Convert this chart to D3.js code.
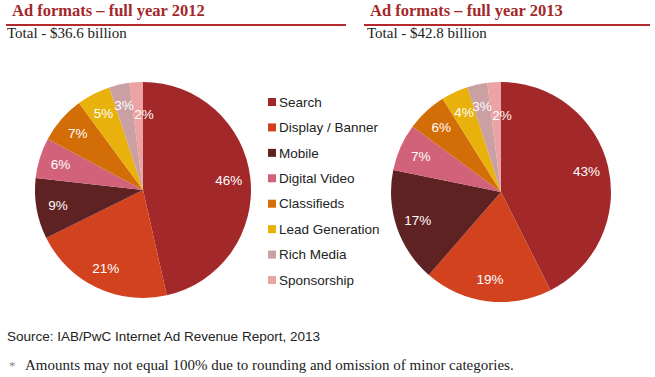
<!DOCTYPE html>
<html>
  <head>
    <meta charset="utf-8">
    <title></title>
    <style>
      body { margin: 0; background: #fff; }
      text { font-family: "Liberation Sans", Arial, sans-serif; }
      .serif { font-family: "Liberation Serif", "DejaVu Serif", serif; }
    </style>
  </head>
  <body>
    <div id="chart"></div>
    <script src="https://d3js.org/d3.v7.min.js" charset="utf-8"></script>
    <script>

      const width = 655;
      const height = 377;

      const categories = ['Search', 'Display / Banner', 'Mobile', 'Digital Video',
                          'Classifieds', 'Lead Generation', 'Rich Media', 'Sponsorship'];
      const colors = ['#a3282a', '#d2421f', '#5f2222', '#d2627a',
                      '#d26d07', '#e8b10b', '#caa0a2', '#eba3a3'];

      const values2012 = [46, 21, 9, 6, 7, 5, 3, 2];
      const values2013 = [43, 19, 17, 7, 6, 4, 3, 2];

      const titles = ['Ad formats \u2013 full year 2012', 'Ad formats \u2013 full year 2013'];
      const totals = ['Total - $36.6 billion', 'Total - $42.8 billion'];

      const svg = d3.select('#chart')
                    .append('svg')
                    .attr('width', width)
                    .attr('height', height)

      // headers
      const headers = [
        {x: 12, lineX: [6, 346], totX: 7},
        {x: 370, lineX: [364, 650], totX: 367}
      ]
      headers.forEach((h, i) => {
        svg.append('text').attr('class', 'serif')
          .attr('x', h.x).attr('y', 16)
          .attr('font-size', 16.5).attr('font-weight', 'bold')
          .attr('fill', '#a3282a')
          .text(titles[i])
        svg.append('line')
          .attr('x1', h.lineX[0]).attr('x2', h.lineX[1])
          .attr('y1', 25).attr('y2', 25)
          .attr('stroke', '#b5282c').attr('stroke-width', 2)
        svg.append('text').attr('class', 'serif')
          .attr('x', h.totX).attr('y', 38)
          .attr('font-size', 15).attr('fill', '#222')
          .text(totals[i])
      })

      const pie = d3.pie().sort(null).value(d => d)

      const drawPie = function(values, cx, cy, r) {
        const arc = d3.arc().innerRadius(0).outerRadius(r)
        const labelArc = d3.arc().innerRadius(r * 0.8).outerRadius(r * 0.8)
        const g = svg.append('g').attr('transform', `translate(${cx},${cy})`)
        const arcs = pie(values)

        g.selectAll('path').data(arcs)
          .enter().append('path')
          .attr('d', arc)
          .attr('fill', (d, i) => colors[i])

        g.selectAll('text').data(arcs)
          .enter().append('text')
          .attr('transform', (d, i) => {
            let [x, y] = labelArc.centroid(d)
            // last tiny slice: excel nudges it inward and right
            if (i === arcs.length - 1) { x = 1; y = -r * 0.7 }
            return `translate(${x},${y})`
          })
          .attr('text-anchor', 'middle')
          .attr('dy', '0.35em')
          .attr('font-size', 13.5)
          .attr('fill', '#fff')
          .text(d => d.data + '%')
      }

      drawPie(values2012, 143, 190, 108)
      drawPie(values2013, 501, 192, 110)

      // legend
      const legendY = d3.scalePoint().domain(categories).range([102, 280])
      const legend = svg.append('g')
      categories.forEach((c, i) => {
        legend.append('rect')
          .attr('x', 268).attr('y', legendY(c) - 4)
          .attr('width', 8).attr('height', 8)
          .attr('fill', colors[i])
        legend.append('text')
          .attr('x', 279).attr('y', legendY(c))
          .attr('dy', '0.35em')
          .attr('font-size', 13.5).attr('fill', '#222')
          .text(c)
      })

      svg.append('text')
        .attr('x', 7).attr('y', 341)
        .attr('font-size', 13.5).attr('fill', '#222')
        .text('Source: IAB/PwC Internet Ad Revenue Report, 2013')

      svg.append('text').attr('class', 'serif')
        .attr('x', 9).attr('y', 370)
        .attr('font-size', 13).attr('fill', '#888')
        .text('*')
      svg.append('text').attr('class', 'serif')
        .attr('x', 25).attr('y', 370)
        .attr('font-size', 15).attr('fill', '#222')
        .text('Amounts may not equal 100% due to rounding and omission of minor categories.')

    </script>
  </body>
</html>
